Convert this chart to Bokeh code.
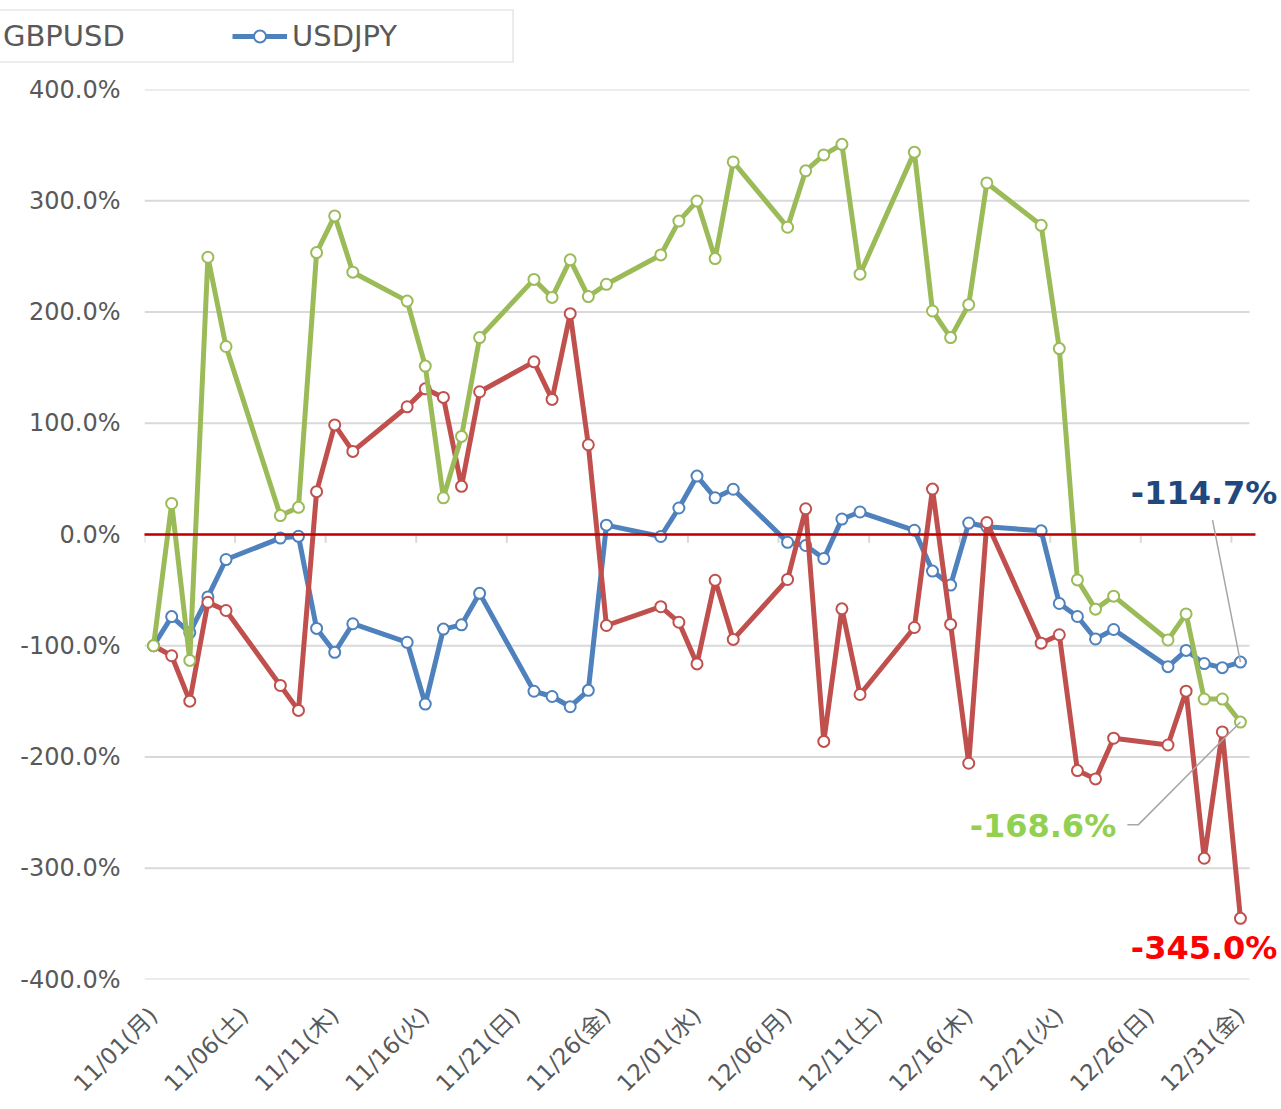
import math
import pandas as pd
from bokeh.plotting import figure
from bokeh.models import Range1d, FixedTicker, Label, Legend, LegendItem
from bokeh.embed import file_html
from bokeh.resources import INLINE

# ---------------- data ----------------
dates = [
    "2021-11-01", "2021-11-02", "2021-11-03", "2021-11-04", "2021-11-05",
    "2021-11-08", "2021-11-09", "2021-11-10", "2021-11-11", "2021-11-12",
    "2021-11-15", "2021-11-16", "2021-11-17", "2021-11-18", "2021-11-19",
    "2021-11-22", "2021-11-23", "2021-11-24", "2021-11-25", "2021-11-26",
    "2021-11-29", "2021-11-30", "2021-12-01", "2021-12-02", "2021-12-03",
    "2021-12-06", "2021-12-07", "2021-12-08", "2021-12-09", "2021-12-10",
    "2021-12-13", "2021-12-14", "2021-12-15", "2021-12-16", "2021-12-17",
    "2021-12-20", "2021-12-21", "2021-12-22", "2021-12-23", "2021-12-24",
    "2021-12-27", "2021-12-28", "2021-12-29", "2021-12-30", "2021-12-31",
]

eurusd = [
    -100.0, -109.0, -149.8, -61.0, -68.3,
    -135.7, -158.1, 38.5, 98.5, 74.7,
    114.8, 130.9, 123.2, 43.3, 128.3,
    155.2, 121.4, 198.5, 80.7, -81.8,
    -64.9, -78.9, -116.3, -41.1, -94.3,
    -40.4, 23.1, -186.0, -66.8, -143.8,
    -83.6, 40.8, -80.8, -205.6, 10.8,
    -97.7, -90.1, -212.2, -219.7, -183.1,
    -189.2, -140.8, -291.0, -177.5, -345.0,
]

gbpusd = [
    -100.0, 27.9, -113.2, 249.2, 169.0,
    17.0, 24.4, 253.4, 286.4, 235.8,
    209.8, 151.4, 33.0, 88.2, 177.0,
    229.3, 213.1, 246.9, 213.9, 224.9,
    251.3, 281.7, 299.7, 248.0, 334.9,
    276.2, 326.9, 341.2, 350.7, 234.0,
    343.7, 200.9, 177.0, 206.6, 316.0,
    277.9, 167.1, -40.8, -67.1, -55.4,
    -94.8, -71.4, -147.9, -147.9, -168.6,
]

usdjpy = [
    -100.0, -73.8, -88.2, -56.1, -22.5,
    -3.2, -1.6, -84.4, -105.9, -80.2,
    -96.9, -152.4, -85.0, -81.2, -52.9,
    -140.9, -145.6, -154.8, -140.1, 8.4,
    -1.8, 23.8, 52.5, 33.0, 40.7,
    -7.0, -9.9, -21.6, 13.9, 20.2,
    3.8, -32.9, -45.5, 10.3, 7.0,
    3.3, -62.0, -73.7, -93.9, -85.4,
    -118.8, -104.2, -116.0, -119.7, -114.7,
]

tick_dates = [
    "2021-11-01", "2021-11-06", "2021-11-11", "2021-11-16", "2021-11-21",
    "2021-11-26", "2021-12-01", "2021-12-06", "2021-12-11", "2021-12-16",
    "2021-12-21", "2021-12-26", "2021-12-31",
]
tick_labels = [
    "11/01(月)", "11/06(土)", "11/11(木)", "11/16(火)", "11/21(日)",
    "11/26(金)", "12/01(水)", "12/06(月)", "12/11(土)", "12/16(木)",
    "12/21(火)", "12/26(日)", "12/31(金)",
]
y_ticks = [-400, -300, -200, -100, 0, 100, 200, 300, 400]

start = pd.Timestamp(dates[0])
days = [(pd.Timestamp(d) - start).days for d in dates]
tick_days = [(pd.Timestamp(d) - start).days for d in tick_dates]

series = {
    "EURUSD": (eurusd, "#C0504D"),
    "GBPUSD": (gbpusd, "#9BBB59"),
    "USDJPY": (usdjpy, "#4F81BD"),
}
LINE_W, MARK_SIZE, MARK_LW = 5, 11, 2

# ---------------- layout sizes ----------------
W = 1280
TOP_H = 70
MAIN_H = 1038
PX_PER_DAY = 18.115
x_lo = days[0] - 0.5
x_hi_axis = days[-1] + 0.5
x_hi_view = x_hi_axis + 31 / PX_PER_DAY   # frame runs on to the page edge

# ---------------- legend strip (own root, so it is not frame-aligned) ----------------
top = figure(width=W, height=TOP_H, output_backend="svg", toolbar_location=None,
             x_range=Range1d(0, 1), y_range=Range1d(1000, 1001),
             x_axis_location=None, y_axis_location=None,
             min_border_left=0, min_border_right=0, min_border_top=0, min_border_bottom=0)
top.outline_line_color = None
top.xgrid.grid_line_color = None
top.ygrid.grid_line_color = None
top.background_fill_color = "white"
top.border_fill_color = "white"

leg_renderers = {}
for name in ["GBPUSD", "USDJPY"]:
    vals, col = series[name]
    rl = top.line(days, vals, line_color=col, line_width=LINE_W)
    rs = top.scatter(days, vals, size=MARK_SIZE, fill_color="white", line_color=col, line_width=MARK_LW)
    leg_renderers[name] = [rl, rs]

legend = Legend(
    items=[LegendItem(label=n, renderers=leg_renderers[n]) for n in ["GBPUSD", "USDJPY"]],
    orientation="horizontal",
    location=(-67, 7),
    label_text_font="DejaVu Sans",
    label_text_font_size="29px",
    label_text_color="#595959",
    glyph_width=55, glyph_height=30,
    label_standoff=5, spacing=17, padding=8, label_width=212,
    border_line_color="#D9D9D9", border_line_width=2,
    background_fill_color="white", background_fill_alpha=1.0,
    margin=0,
)
top.add_layout(legend, "center")

# ---------------- main chart ----------------
p = figure(
    width=W, height=MAIN_H,
    output_backend="svg", toolbar_location=None,
    x_range=Range1d(x_lo, x_hi_view),
    y_range=Range1d(y_ticks[0], y_ticks[-1]),
    min_border_left=144, min_border_right=0,
    min_border_top=19, min_border_bottom=128,
)
p.outline_line_color = None
p.background_fill_color = "white"
p.border_fill_color = "white"
p.xgrid.grid_line_color = None
p.ygrid.grid_line_color = None

# horizontal gridlines limited to the axis extent
p.segment(x0=[x_lo] * len(y_ticks), y0=y_ticks, x1=[x_hi_axis] * len(y_ticks), y1=y_ticks,
          line_color="#D9D9D9", line_width=2)

# y axis
p.yaxis.ticker = FixedTicker(ticks=y_ticks)
p.yaxis.major_label_overrides = {v: f"{v:.1f}%" for v in y_ticks}
p.yaxis.axis_line_color = None
p.yaxis.major_tick_line_color = None
p.yaxis.minor_tick_line_color = None
p.yaxis.major_tick_out = 0
p.yaxis.major_tick_in = 0
p.yaxis.major_label_standoff = 24
p.yaxis.major_label_text_font = "DejaVu Sans"
p.yaxis.major_label_text_font_size = "24px"
p.yaxis.major_label_text_color = "#595959"

# x axis
p.xaxis.ticker = FixedTicker(ticks=tick_days)
p.xaxis.major_label_overrides = {d: lab for d, lab in zip(tick_days, tick_labels)}
p.xaxis.major_label_orientation = math.pi / 4
p.xaxis.axis_line_color = None
p.xaxis.major_tick_line_color = None
p.xaxis.minor_tick_line_color = None
p.xaxis.major_tick_out = 0
p.xaxis.major_tick_in = 0
p.xaxis.major_label_standoff = 32
p.xaxis.major_label_text_font = "'DejaVu Sans', 'Noto Sans CJK JP'"
p.xaxis.major_label_text_font_size = "23px"
p.xaxis.major_label_text_color = "#595959"

# small tick marks on the zero line (category boundaries)
p.segment(x0=[d - 0.5 for d in tick_days], y0=[0] * len(tick_days),
          x1=[d - 0.5 for d in tick_days], y1=[-7.5] * len(tick_days),
          line_color="#D9D9D9", line_width=2)

for name in ["USDJPY", "EURUSD", "GBPUSD"]:
    vals, col = series[name]
    p.line(days, vals, line_color=col, line_width=LINE_W)
    p.scatter(days, vals, size=MARK_SIZE, fill_color="white", line_color=col, line_width=MARK_LW)

# zero line (drawn above the series)
p.segment(x0=[x_lo - 0.05], y0=[0], x1=[x_hi_axis + 0.33], y1=[0],
          line_color="#C00000", line_width=2.5)

# ---------------- callouts ----------------
p.line([58.46, days[-1]], [13.0, usdjpy[-1]], line_color="#A6A6A6", line_width=1.5)
p.line([53.76, 54.37, days[-1]], [-260.8, -260.8, gbpusd[-1]], line_color="#A6A6A6", line_width=1.5)

for txt, xx, yy, col in [
    (f"{usdjpy[-1]:.1f}%", 53.95, 37.5, "#1F497D"),
    (f"{gbpusd[-1]:.1f}%", 45.05, -262.4, "#92D050"),
    (f"{eurusd[-1]:.1f}%", 53.95, -371.5, "#FF0000"),
]:
    p.add_layout(Label(x=xx, y=yy, text=txt, text_font="DejaVu Sans",
                       text_font_style="bold", text_font_size="32px",
                       text_color=col, text_baseline="alphabetic", text_align="left"))

open("out.html", "w").write(file_html([top, p], INLINE))
